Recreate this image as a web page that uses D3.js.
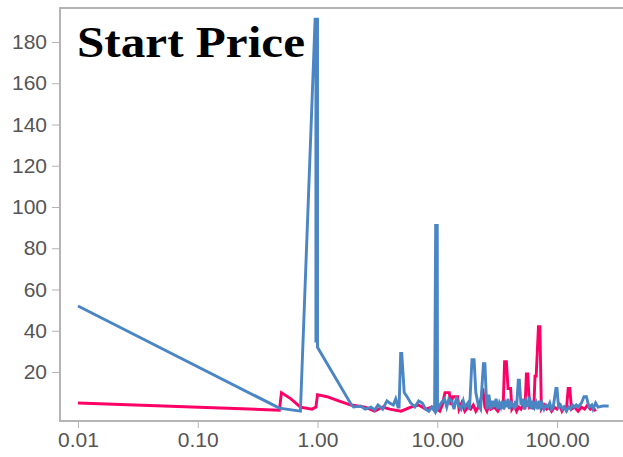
<!DOCTYPE html>
<html><head><meta charset="utf-8">
<script src="https://cdn.jsdelivr.net/npm/d3@7"></script>
<style>body{margin:0;background:#fff}svg{display:block}</style>
</head><body>
<svg id="c" width="623" height="457"></svg>
<script>
const title = "Start Price";
const xTicks = [0.01, 0.1, 1, 10, 100];
const yTicks = [20, 40, 60, 80, 100, 120, 140, 160, 180];

const blueX = [0.01,0.48,0.72,0.955,0.97,0.97,0.985,0.985,1.0,1.0,1.9,2.0,2.3,2.5,2.8,3.0,3.2,3.5,3.8,4.0,4.3,4.5,4.7,4.8,4.95,5.05,5.3,5.6,6.0,6.5,7.0,7.5,8.0,8.5,9.0,9.5,9.7,10.0,10.05,10.8,11.5,12,12.5,13.2,13.8,14.5,15,15.8,16.5,17,18,18.6,19.5,20.3,21,22,23,24.3,25.0,25.5,26,27,28,29,30,31,32,33,34,35,36,37,38,39,40,41,42,43,44,45,46,47.5,48.5,50,52,53,55,57,59,61,63,65,67,69,71,73,75,78,81,84,87,90,93,98,100,103,107,111,115,120,125,130,135,140,145,150,160,168,176,185,195,200,210,220,240,270];
const blueY = [52,2.5,1,191,191,35,35,191,191,32,4.5,3,3.5,2,3,1.5,4,2,6,5,4,7,3,3,29,29,10,8,5,3,6,5,2,1,3,1,91,91,2,5,7,3,7,6,2,8,4,2,6,3,5,2,26,26,10,4,2,24,24,12,2,9,2,6,3,7,2,5,3,6,2,5,3,7,2,6,3,5,2,6,3,16,16,4,7,2,6,3,8,2,6,3,5,2,6,3,5,2,4,3,5,2,3,12,12,3,4,2,3,1,3,2,4,3,4,3,5,8,8,3,4,2,5,3,3.5,3.5];

const pinkX = [0.01,0.48,0.5,0.6,0.72,0.9,0.97,1.0,1.2,1.5,1.9,2.5,3.0,3.5,4.0,5.0,6.0,7.0,8.0,9.0,10,10.5,11,11.6,12.6,13,13.5,14.8,15.2,16,17,18,19,20,21,22,23,24,25,26,27,28,30,32,34,35.5,36.5,37.8,39,41,42,44,46,48,50,52,54,55.5,57,59,62,64,65.5,67,70,72,74,78,82,86,90,95,100,105,110,115,120,124,128,132,140,150,160,170,180,190,200,210];
const pinkY = [5,1.5,10,7,3,2,3,9,8,6,4,3,1,3,2,1,3,4,2,3,2,1,4,10,10,4,8,8,2,5,1,3,2,4,1,3,6,12,3,1,4,2,3,1,4,3,25,25,12,12,2,4,1,3,2,4,2,19,19,3,4,2,18,18,42,42,2,4,2,3,1,3,2,4,1,3,2,12,12,2,3,1,3,2,4,2,3,1];

const blue = blueX.map((x,i)=>({x, y: blueY[i]}));
const pink = pinkX.map((x,i)=>({x, y: pinkY[i]}));

const svg = d3.select("#c");
const mLeft = 60, mTop = 8, mBottom = 420, mRight = 623;
const x = d3.scaleLog().domain([0.01, 100]).range([78, 557]);
const y = d3.scaleLinear().domain([0, 180]).range([413.25, 42]);

const line = d3.line().x(d=>x(d.x)).y(d=>y(d.y));

svg.append("path").datum(pink).attr("d", line)
  .attr("fill","none").attr("stroke","#ff0066").attr("stroke-width",2.9).attr("stroke-linejoin","miter");
svg.append("path").datum(blue).attr("d", line)
  .attr("fill","none").attr("stroke","#4a85c4").attr("stroke-width",2.9).attr("stroke-linejoin","miter");

svg.append("line").attr("x1",mLeft).attr("x2",mRight).attr("y1",mTop).attr("y2",mTop)
  .attr("stroke","#b4b4b4").attr("stroke-width",2);

const yAxis = d3.axisLeft(y).tickValues(yTicks).tickSize(7).tickPadding(5).tickFormat(d3.format("d"));
const gy = svg.append("g").attr("transform",`translate(${mLeft-1},0)`).call(yAxis);
gy.select(".domain").remove();
gy.selectAll(".tick line").attr("stroke","#b4b4b4");
gy.selectAll(".tick text").attr("fill","#555").style("font-family","'Liberation Sans', Arial, sans-serif").style("font-size","21px");

const xAxis = d3.axisBottom(x).tickValues(xTicks).tickSize(7).tickPadding(4).tickFormat(d3.format(".2f"));
const gx = svg.append("g").attr("transform",`translate(0,${mBottom+1})`).call(xAxis);
gx.select(".domain").remove();
gx.selectAll(".tick line").attr("stroke","#b4b4b4");
gx.selectAll(".tick text").attr("fill","#555").style("font-family","'Liberation Sans', Arial, sans-serif").style("font-size","21px");

svg.append("line").attr("x1",mLeft).attr("x2",mLeft).attr("y1",mTop-1).attr("y2",mBottom+2)
  .attr("stroke","#b4b4b4").attr("stroke-width",2);
svg.append("line").attr("x1",mLeft-1).attr("x2",mRight).attr("y1",mBottom+1).attr("y2",mBottom+1)
  .attr("stroke","#b4b4b4").attr("stroke-width",2);

svg.append("text").attr("x",77).attr("y",57).text(title)
  .attr("fill","#000").style("font-family","'Liberation Serif', 'Times New Roman', serif")
  .style("font-weight","bold").style("font-size","44px")
  .attr("textLength",228).attr("lengthAdjust","spacingAndGlyphs");
</script>
</body></html>
